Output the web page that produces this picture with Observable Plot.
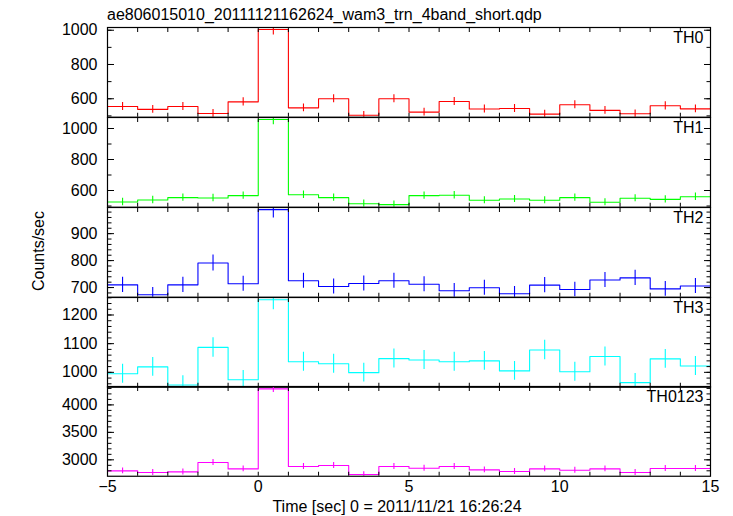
<!DOCTYPE html>
<html><head><meta charset="utf-8">
<script src="https://cdn.jsdelivr.net/npm/d3@7"></script>
<script src="https://cdn.jsdelivr.net/npm/@observablehq/plot@0.6"></script>
<style>
body{margin:0;background:#fff;}
#chart{position:relative;width:733px;height:516px;font-family:"Liberation Sans",Arial,Helvetica,sans-serif;color:#000;overflow:hidden;background:#fff;}
.panel{position:absolute;left:0;}
.panel svg{overflow:visible;}
#title{position:absolute;left:107px;top:7px;font-size:16px;line-height:16px;white-space:nowrap;}
#ylabel{position:absolute;left:-61px;top:243px;width:200px;text-align:center;font-size:16px;line-height:16px;transform:rotate(-90deg);}
#xlabel{position:absolute;left:197px;top:499px;width:400px;text-align:center;font-size:16px;line-height:16px;white-space:nowrap;}
</style></head>
<body>
<div id="chart">
  <div id="title">ae806015010_20111121162624_wam3_trn_4band_short.qdp</div>
  <div id="ylabel">Counts/sec</div>
  <div id="xlabel">Time [sec] 0 = 2011/11/21 16:26:24</div>
</div>
<script>
// ---- data ----
const timeBins = [-5,-4,-3,-2,-1,0,1,2,3,4,5,6,7,8,9,10,11,12,13,14]; // bin start [sec]
const timeEnd = 15;
const binWidth = 1;
const timeDomain = [-5, 15];
const xLabelTicks = [-5, 0, 5, 10, 15];
const xMinorTicks = [-5,-4,-3,-2,-1,0,1,2,3,4,5,6,7,8,9,10,11,12,13,14,15];

const panelNames = ["TH0", "TH1", "TH2", "TH3", "TH0123"];
const panelColors = ["#ff0000", "#00ff00", "#0000ff", "#00ffff", "#ff00ff"];

const th0 = [555, 538, 555, 514, 582, 1004, 547, 600, 504, 600, 522, 584, 540, 543, 510, 565, 532, 512, 559, 541];
const th1 = [526, 539, 554, 552, 567, 1058, 573, 554, 515, 509, 567, 569, 537, 545, 537, 554, 524, 550, 543, 560];
const th2 = [710, 673, 710, 791, 714, 989, 725, 704, 715, 725, 712, 688, 699, 677, 709, 693, 728, 736, 695, 706];
const th3 = [995, 1019, 956, 1087, 974, 1253, 1037, 1030, 999, 1048, 1043, 1037, 1040, 1005, 1078, 1002, 1055, 964, 1047, 1022];
const th0123 = [2799, 2768, 2780, 2951, 2835, 4292, 2878, 2896, 2732, 2878, 2848, 2878, 2817, 2787, 2835, 2811, 2835, 2768, 2841, 2841];

const th0Err = [23, 23, 23, 23, 24, 32, 23, 24, 22, 24, 23, 24, 23, 23, 23, 24, 23, 23, 24, 23];
const th1Err = [24, 24, 24, 24, 24, 33, 24, 24, 23, 23, 24, 24, 23, 23, 23, 24, 23, 23, 23, 24];
const th2Err = [28, 27, 28, 30, 28, 31, 28, 28, 28, 28, 28, 27, 28, 27, 28, 27, 28, 28, 27, 28];
const th3Err = [33, 33, 32, 34, 32, 35, 33, 33, 33, 33, 33, 33, 33, 33, 34, 33, 33, 32, 33, 33];
const th0123Err = [54, 54, 54, 55, 54, 66, 54, 54, 53, 54, 54, 54, 54, 54, 54, 54, 54, 54, 54, 54];

const yDomains = [[492, 1016], [492, 1071], [664, 997], [948, 1261], [2701, 4335]];
const yMajor = [[600, 800, 1000], [600, 800, 1000], [700, 800, 900], [1000, 1100, 1200], [3000, 3500, 4000]];
const yMinor = [
  [500, 600, 700, 800, 900, 1000],
  [500, 600, 700, 800, 900, 1000],
  [680, 700, 720, 740, 760, 780, 800, 820, 840, 860, 880, 900, 920, 940, 960, 980],
  [960, 980, 1000, 1020, 1040, 1060, 1080, 1100, 1120, 1140, 1160, 1180, 1200, 1220, 1240, 1260],
  [2800, 2900, 3000, 3100, 3200, 3300, 3400, 3500, 3600, 3700, 3800, 3900, 4000, 4100, 4200, 4300]
];
const values = [th0, th1, th2, th3, th0123];
const errors = [th0Err, th1Err, th2Err, th3Err, th0123Err];

// ---- layout ----
const W = 733, ML = 107, MR = 23;
const panelTop = 27.3, panelH = 89.75;
const chart = document.getElementById("chart");
const font = '"Liberation Sans", Arial, Helvetica, sans-serif';
const noText = () => "";
const plain = d3.format("d");

values.forEach((vals, i) => {
  const errs = errors[i];
  const rows = timeBins.map((t, j) => ({t, v: vals[j], e: errs[j]}));
  const stepRows = rows.concat([{t: timeEnd, v: vals[vals.length - 1]}]);
  const last = i === values.length - 1;
  const color = panelColors[i];
  const marks = [
    Plot.line(stepRows, {x: "t", y: "v", curve: "step-after", stroke: color, strokeWidth: 1.1, clip: true}),
    Plot.ruleX(rows, {x: d => d.t + binWidth / 2, y1: d => d.v - d.e, y2: d => d.v + d.e, stroke: color, strokeWidth: 1.1, clip: true}),
    Plot.frame({stroke: "#000", strokeWidth: 1.2}),
    Plot.axisY({anchor: "left", ticks: yMajor[i], tickSize: 0, tickPadding: 10, tickFormat: plain, label: null}),
    Plot.axisY({anchor: "left", ticks: yMajor[i], tickSize: -7, tickFormat: noText, label: null}),
    Plot.axisY({anchor: "left", ticks: yMinor[i], tickSize: -4.5, tickFormat: noText, label: null}),
    Plot.axisY({anchor: "right", ticks: yMajor[i], tickSize: -7, tickFormat: noText, label: null}),
    Plot.axisY({anchor: "right", ticks: yMinor[i], tickSize: -4.5, tickFormat: noText, label: null}),
    Plot.axisX({anchor: "bottom", ticks: xMinorTicks, tickSize: -4, tickFormat: noText, label: null}),
    Plot.axisX({anchor: "top", ticks: xMinorTicks, tickSize: -4, tickFormat: noText, label: null}),
    Plot.text([panelNames[i]], {frameAnchor: "top-right", dx: -7, dy: 4, fontSize: 16, fill: "#000"})
  ];
  if (last) marks.push(Plot.axisX({anchor: "bottom", ticks: xLabelTicks, tickSize: 0, tickPadding: 4, tickFormat: plain, label: null}));
  const svg = Plot.plot({
    width: W,
    height: panelH + (last ? 30 : 0),
    marginLeft: ML,
    marginRight: MR,
    marginTop: 0,
    marginBottom: last ? 30 : 0,
    x: {domain: timeDomain},
    y: {domain: yDomains[i]},
    style: {background: "transparent", overflow: "visible", fontSize: "16px", fontFamily: font, color: "#000"},
    marks
  });
  const div = document.createElement("div");
  div.className = "panel";
  div.style.top = (panelTop + i * panelH) + "px";
  div.appendChild(svg);
  chart.appendChild(div);
});
</script>
</body></html>
